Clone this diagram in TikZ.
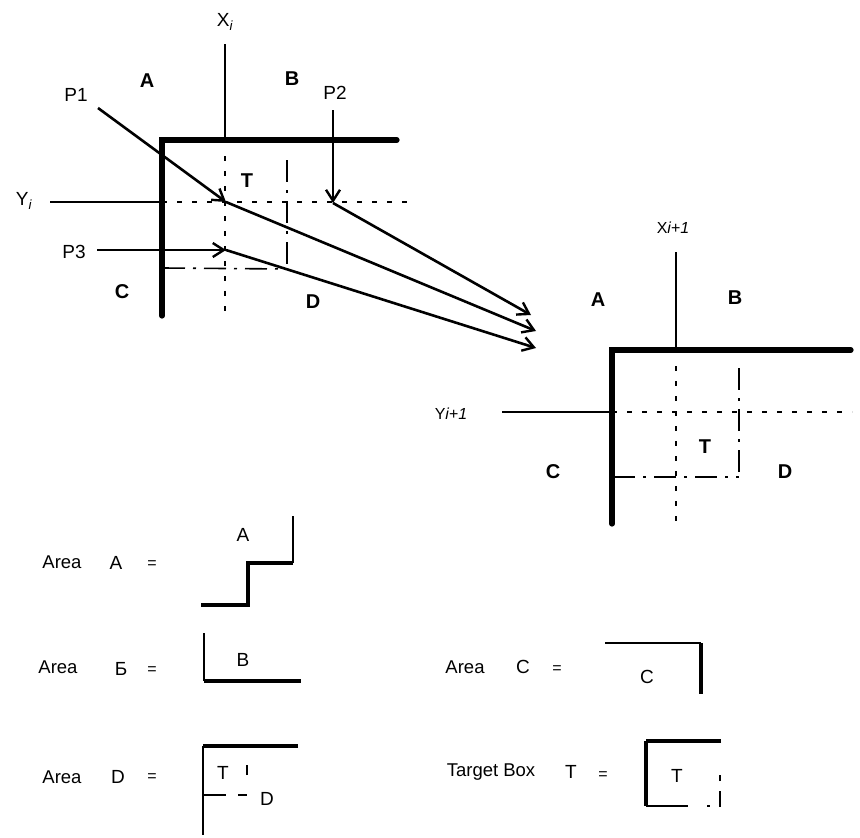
\documentclass[tikz,border=0pt]{standalone}
\usepackage{fontspec}
\setmainfont{Liberation Sans}
\usetikzlibrary{arrows.meta}
\begin{document}
\begin{tikzpicture}[x=1pt,y=-1pt,
  heavy/.style={line width=5.2pt,line cap=round,line join=miter},
  thin/.style={line width=2.6pt},
  grid/.style={line width=1.6pt,dash pattern=on 5pt off 10pt},
  edgeline/.style={line width=1.6pt,dash pattern=on 22pt off 8pt on 3pt off 8pt},
  ptr/.style={thin,-{Straight Barb[length=11pt,width=14pt,line width=2.4pt]}},
  lab/.style={font=\fontsize{20}{22}\selectfont\bfseries,inner sep=0pt},
  txt/.style={font=\fontsize{19}{21}\selectfont,inner sep=0pt},
  axis/.style={font=\fontsize{16}{18}\selectfont,inner sep=0pt},
  leg/.style={font=\fontsize{19}{21}\selectfont,inner sep=0pt},
  small/.style={font=\fontsize{18.5}{20}\selectfont,inner sep=0pt},
  eq/.style={font=\fontsize{16}{18}\selectfont,inner sep=0pt}]
\useasboundingbox (0,0) rectangle (860,838);

% ---------- cell i ----------
\coordinate (c1) at (162,140);
\coordinate (x1t) at (225,44);
\coordinate (x1b) at (225,140);
\coordinate (t1r) at (397,140);
\coordinate (l1b) at (162,316);
\coordinate (y1l) at (50,202);
\coordinate (y1m) at (162,202);
\coordinate (y1r) at (412,202);
\coordinate (g1t) at (225,156);
\coordinate (g1b) at (225,316);
\coordinate (e1t) at (287,160);
\coordinate (e1b) at (287,269);
\coordinate (h1l) at (163,268);

\draw[thin] (x1t) -- (x1b);
\draw[heavy] (t1r) -- (c1) -- (l1b);
\draw[thin] (y1l) -- (y1m);
\draw[grid] (y1m) -- (y1r);
\draw[grid] (g1t) -- (g1b);
\draw[edgeline] (e1t) -- (e1b);
\draw[edgeline] (h1l) -- (e1b);

\node[txt] (xi) at (225,22) {X\textsubscript{\itshape i}};
\node[txt] (yi) at (24,201) {Y\textsubscript{\itshape i}};
\node[lab] (la1) at (147,81) {A};
\node[lab] (lb1) at (292,79) {B};
\node[lab] (lt1) at (247,181) {T};
\node[lab] (lc1) at (122,292) {C};
\node[lab] (ld1) at (313,302) {D};
\node[txt] (p1) at (76,95) {P1};
\node[txt] (p2) at (335,93) {P2};
\node[txt] (p3) at (74,252) {P3};

\coordinate (p1s) at (98,108);
\coordinate (p1e) at (226,202);
\coordinate (p2s) at (333,110);
\coordinate (p2e) at (333,203);
\coordinate (p3s) at (97,250);
\coordinate (p3e) at (226,250);
\draw[ptr] (p1s) -- (p1e);
\draw[ptr] (p2s) -- (p2e);
\draw[ptr] (p3s) -- (p3e);

% moves into cell i+1
\coordinate (m1) at (531,315);
\coordinate (m2) at (536,331);
\coordinate (m3) at (536,348);
\draw[ptr] (p2e) -- (m1);
\draw[ptr] (p1e) -- (m2);
\draw[ptr] (p3e) -- (m3);

% ---------- cell i+1 ----------
\coordinate (c2) at (612,350);
\coordinate (x2t) at (676,252);
\coordinate (x2b) at (676,350);
\coordinate (t2r) at (851,350);
\coordinate (l2b) at (612,524);
\coordinate (y2l) at (502,412);
\coordinate (y2m) at (612,412);
\coordinate (y2r) at (852,412);
\coordinate (g2t) at (676,366);
\coordinate (g2b) at (676,522);
\coordinate (e2t) at (739,368);
\coordinate (e2b) at (739,477);
\coordinate (h2l) at (613,477);

\draw[thin] (x2t) -- (x2b);
\draw[heavy] (t2r) -- (c2) -- (l2b);
\draw[thin] (y2l) -- (y2m);
\draw[grid] (y2m) -- (y2r);
\draw[grid] (g2t) -- (g2b);
\draw[edgeline] (e2t) -- (e2b);
\draw[edgeline] (h2l) -- (e2b);

\node[axis] (xi1) at (673,228) {X\textit{i+1}};
\node[axis] (yi1) at (451,414) {Y\textit{i+1}};
\node[lab] (la2) at (598,300) {A};
\node[lab] (lb2) at (735,298) {B};
\node[lab] (lt2) at (705,447) {T};
\node[lab] (lc2) at (553,472) {C};
\node[lab] (ld2) at (785,472) {D};

% ---------- legend ----------
% Area A
\node[small] (aa) at (62,562) {Area};
\node[leg] (aal) at (116,563) {A};
\node[eq] (aae) at (152,565) {=};
\coordinate (sa1) at (201,605);
\coordinate (sa2) at (248,605);
\coordinate (sa3) at (248,563);
\coordinate (sa4) at (293,563);
\coordinate (sa5) at (293,516);
\draw[line width=3.6pt] (sa1) -- (sa2) -- (sa3) -- (sa4);
\draw[line width=2pt] (sa4) -- (sa5);
\node[leg] (sal) at (243,535) {A};

% Area B
\node[small] (ab) at (58,667) {Area};
\node[leg] (abl) at (121,669) {Б};
\node[eq] (abe) at (152,671) {=};
\coordinate (sb1) at (204,633);
\coordinate (sb2) at (204,681);
\coordinate (sb3) at (301,681);
\draw[line width=2pt] (sb1) -- (sb2);
\draw[line width=4pt] (sb2) -- (sb3);
\node[leg] (sbl) at (243,660) {B};

% Area C
\node[small] (ac) at (465,667) {Area};
\node[leg] (acl) at (523,667) {C};
\node[eq] (ace) at (557,670) {=};
\coordinate (sc1) at (605,643);
\coordinate (sc2) at (701,643);
\coordinate (sc3) at (701,694);
\draw[line width=2.2pt] (sc1) -- (sc2);
\draw[line width=4pt] (sc2) -- (sc3);
\node[leg] (scl) at (647,677) {C};

% Area D
\node[small] (ad) at (62,777) {Area};
\node[leg] (adl) at (118,777) {D};
\node[eq] (ade) at (152,778) {=};
\coordinate (sd1) at (298,746);
\coordinate (sd2) at (203,746);
\coordinate (sd3) at (203,835);
\coordinate (sd4) at (203,795);
\coordinate (sd5) at (247,795);
\coordinate (sd6) at (247,765);
\draw[line width=4pt] (sd1) -- (sd2);
\draw[line width=2.4pt] (sd2) -- (sd3);
\draw[line width=1.4pt,dash pattern=on 23pt off 12pt on 9pt off 20pt] (sd4) -- (sd5) -- (sd6);
\node[leg] (sdt) at (223,773) {T};
\node[leg] (sdl) at (267,799) {D};

% Target box T
\node[small] (tb) at (491,772) {Target Box};
\node[leg] (tbl) at (571,772) {T};
\node[eq] (tbe) at (603,776) {=};
\coordinate (st1) at (721,741);
\coordinate (st2) at (646,741);
\coordinate (st3) at (646,806);
\coordinate (st4) at (720,806);
\coordinate (st5) at (720,760);
\draw[line width=4pt] (st1) -- (st2);
\draw[line width=3.2pt] (st2) -- (st3);
\draw[line width=1.6pt,dash pattern=on 42pt off 19pt on 3pt off 9pt on 16pt off 10pt on 6pt off 30pt] (st3) -- (st4) -- (st5);
\node[leg] (stl) at (677,776) {T};
\end{tikzpicture}
\end{document}
